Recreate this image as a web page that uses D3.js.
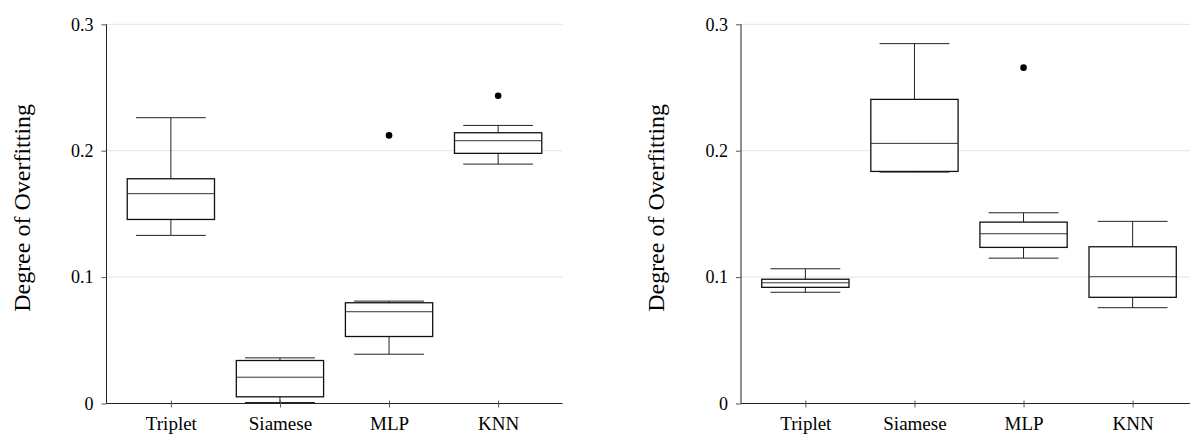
<!DOCTYPE html>
<html>
<head>
<meta charset="utf-8">
<script src="https://cdn.jsdelivr.net/npm/d3@7"></script>
<style>
  html, body { margin: 0; padding: 0; background: #fff; }
  svg text { font-family: "Liberation Serif", "Times New Roman", serif; fill: #000; }
</style>
</head>
<body>
<div id="viz"></div>
<script>
const categories = ["Triplet", "Siamese", "MLP", "KNN"];
const yTicks = [0, 0.1, 0.2, 0.3];

// left panel: lower whisker, q1, median, q3, upper whisker
const leftLow    = [0.133, 0.0008, 0.039, 0.1894];
const leftQ1     = [0.1456, 0.0053, 0.053, 0.1979];
const leftMedian = [0.166, 0.0208, 0.0726, 0.2079];
const leftQ3     = [0.1778, 0.034, 0.0797, 0.2142];
const leftHigh   = [0.2261, 0.0361, 0.081, 0.220];
const leftOutliers = [[], [], [0.2121], [0.2435]];

// right panel
const rightLow    = [0.088, 0.1831, 0.115, 0.0758];
const rightQ1     = [0.0919, 0.1836, 0.1235, 0.084];
const rightMedian = [0.0955, 0.2058, 0.1343, 0.1003];
const rightQ3     = [0.0983, 0.2406, 0.1435, 0.124];
const rightHigh   = [0.1066, 0.2847, 0.1509, 0.1441];
const rightOutliers = [[], [], [0.2657], []];

const WIDTH = 1190, HEIGHT = 435;
const PLOT_W = 456;
const Y_TOP = 24.3, Y_BOTTOM = 403.5;

const svg = d3.select("#viz").append("svg")
  .attr("width", WIDTH)
  .attr("height", HEIGHT);

function drawPanel(left, low, q1, med, q3, high, outliers) {
  const x = d3.scalePoint()
    .domain(categories)
    .range([left, left + PLOT_W])
    .padding(0.59);
  const step = x.step();
  const boxW = step * 0.8;
  const capW = step * 0.64;

  const y = d3.scaleLinear()
    .domain([0, 0.3])
    .range([Y_BOTTOM, Y_TOP]);

  const g = svg.append("g");

  // grid
  g.selectAll("line.grid")
    .data(yTicks.filter(d => d > 0))
    .join("line")
    .attr("class", "grid")
    .attr("x1", left).attr("x2", left + PLOT_W)
    .attr("y1", d => y(d)).attr("y2", d => y(d))
    .attr("stroke", "#e3e3e3")
    .attr("stroke-width", 1);

  const boxes = categories.map((c, i) => ({
    c, low: low[i], q1: q1[i], med: med[i], q3: q3[i], high: high[i], out: outliers[i]
  }));

  const b = g.selectAll("g.box").data(boxes).join("g").attr("class", "box");
  const stroke = "#222";

  // whiskers
  b.append("line")
    .attr("x1", d => x(d.c)).attr("x2", d => x(d.c))
    .attr("y1", d => y(d.q3)).attr("y2", d => y(d.high))
    .attr("stroke", stroke);
  b.append("line")
    .attr("x1", d => x(d.c)).attr("x2", d => x(d.c))
    .attr("y1", d => y(d.q1)).attr("y2", d => y(d.low))
    .attr("stroke", stroke);
  // caps
  b.append("line")
    .attr("x1", d => x(d.c) - capW / 2).attr("x2", d => x(d.c) + capW / 2)
    .attr("y1", d => y(d.high)).attr("y2", d => y(d.high))
    .attr("stroke", stroke);
  b.append("line")
    .attr("x1", d => x(d.c) - capW / 2).attr("x2", d => x(d.c) + capW / 2)
    .attr("y1", d => y(d.low)).attr("y2", d => y(d.low))
    .attr("stroke", stroke);
  // box
  b.append("rect")
    .attr("x", d => x(d.c) - boxW / 2)
    .attr("y", d => y(d.q3))
    .attr("width", boxW)
    .attr("height", d => y(d.q1) - y(d.q3))
    .attr("fill", "#fff")
    .attr("stroke", "#111")
    .attr("stroke-width", 1.3);
  // median
  b.append("line")
    .attr("x1", d => x(d.c) - boxW / 2).attr("x2", d => x(d.c) + boxW / 2)
    .attr("y1", d => y(d.med)).attr("y2", d => y(d.med))
    .attr("stroke", "#333");
  // outliers
  b.selectAll("circle")
    .data(d => d.out.map(v => ({c: d.c, v})))
    .join("circle")
    .attr("cx", d => x(d.c))
    .attr("cy", d => y(d.v))
    .attr("r", 3.3)
    .attr("fill", "#000");

  // y axis
  const yAxis = g.append("g")
    .attr("transform", `translate(${left},0)`)
    .call(d3.axisLeft(y).tickValues(yTicks).tickSize(5).tickPadding(8)
      .tickFormat(d => d === 0 ? "0" : d3.format(".1f")(d)));
  yAxis.select(".domain").attr("stroke", "#222").attr("d", `M0,${Y_BOTTOM}V${Y_TOP}`);
  yAxis.selectAll(".tick line").attr("stroke", "#555");
  yAxis.selectAll("text").style("font-size", "18px");

  // x axis
  const xAxis = g.append("g")
    .attr("transform", `translate(0,${Y_BOTTOM})`)
    .call(d3.axisBottom(x).tickSize(0).tickPadding(13));
  xAxis.select(".domain").attr("stroke", "#222").attr("d", `M${left},0H${left + PLOT_W}`);
  xAxis.selectAll(".tick").append("line")
    .attr("y1", -3).attr("y2", 4)
    .attr("stroke", "#555");
  xAxis.selectAll("text").style("font-size", "19px");

  // axis title
  svg.append("text")
    .attr("transform", `translate(${left - 77},${(Y_TOP + Y_BOTTOM) / 2 - 6}) rotate(-90)`)
    .attr("text-anchor", "middle")
    .style("font-size", "24px")
    .text("Degree of Overfitting");
}

drawPanel(106.5, leftLow, leftQ1, leftMedian, leftQ3, leftHigh, leftOutliers);
drawPanel(741, rightLow, rightQ1, rightMedian, rightQ3, rightHigh, rightOutliers);
</script>
</body>
</html>
